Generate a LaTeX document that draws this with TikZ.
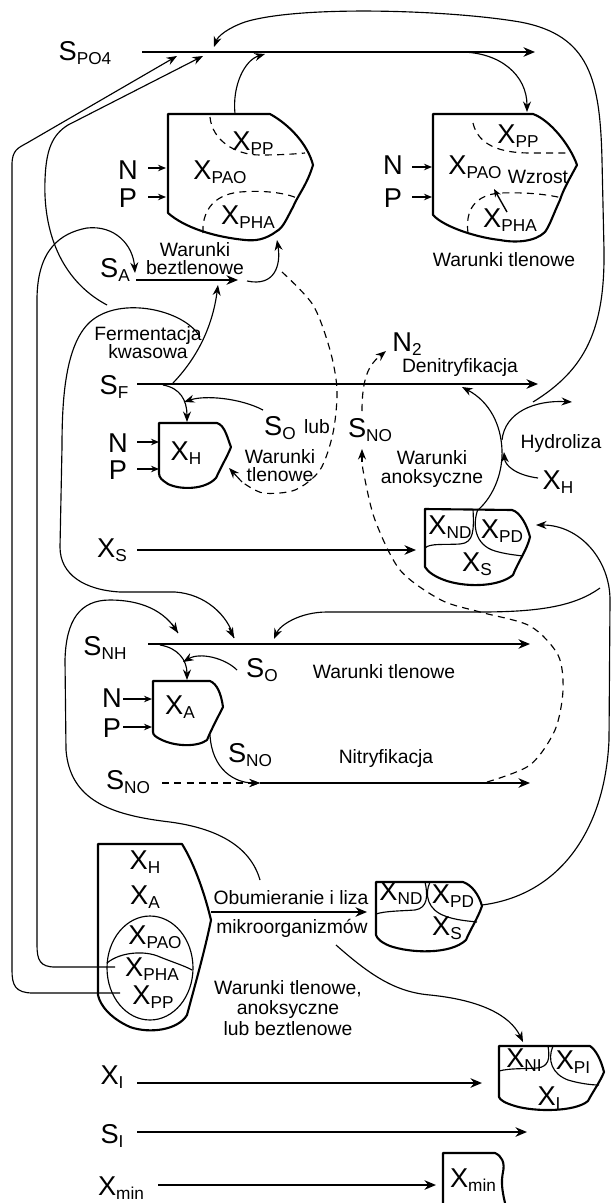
\documentclass[tikz,border=0pt]{standalone}
\usepackage{fontspec}
\setmainfont{Liberation Sans}
\usetikzlibrary{arrows.meta}
\newcommand{\bigf}{\fontsize{15.5}{15.5}\selectfont}
\newcommand{\subf}{\fontsize{9.8}{9.8}\selectfont}
\newcommand{\smf}{\fontsize{11}{10.3}\selectfont}
\newcommand{\vs}[2]{{\bigf #1}\raisebox{-2pt}{\subf #2}}
\tikzset{
  ar/.style={-{Stealth[length=2.3mm,width=1.9mm]},line width=1.2pt},
  sar/.style={-{Stealth[length=1.6mm,width=1.3mm]},line width=0.8pt},
  arc/.style={-{Stealth[length=2.1mm,width=1.6mm]},line width=0.65pt},
  cv/.style={line width=0.65pt},
  dsh/.style={line width=0.65pt,dash pattern=on 4pt off 3pt},
  bx/.style={line width=1.2pt,line join=round},
  lab/.style={inner sep=0pt,font=\bigf},
  txt/.style={inner sep=0pt,font=\smf,align=center}
}
\begin{document}
\begin{tikzpicture}[x=0.02cm,y=-0.02cm]
\useasboundingbox (0,0) rectangle (612,1203);

% --- fosforany
\node[lab] (spo4) at (85,53) {\vs{S}{PO4}};
\draw[ar] (142,52) -- (535,52);
\draw[arc] (533,402) .. controls (585,370) and (605,330) .. (604,250)
  -- (602,160) .. controls (600,80) and (590,35) .. (520,22)
  .. controls (450,10) and (300,5) .. (245,22) .. controls (228,28) and (218,36) .. (214,47);
\draw[arc] (235,114) .. controls (232,85) and (245,60) .. (265,54);
\draw[arc] (460,52) .. controls (500,52) and (527,75) .. (527,112);
\draw[arc] (120,993) -- (33,993) .. controls (15,993) and (12,985) .. (12,970)
  -- (12,165) .. controls (12,150) and (18,148) .. (27,143) -- (177,56);
\draw[arc] (107,305) .. controls (60,280) and (43,230) .. (45,180)
  .. controls (46,150) and (52,135) .. (68,125) -- (203,56);

% --- PAO beztlenowe
\draw[bx] (168,114) -- (270,114) .. controls (290,125) and (308,145) .. (313,165)
  .. controls (307,185) and (298,195) .. (293,207) .. controls (287,218) and (283,228) .. (277,231)
  .. controls (265,240) and (255,241) .. (245,240) .. controls (215,237) and (185,228) .. (168,213) -- cycle;
\draw[dsh] (210,117) .. controls (212,140) and (235,155) .. (260,155) .. controls (280,155) and (295,154) .. (305,153);
\draw[dsh] (203,233) .. controls (202,215) and (210,195) .. (240,192) .. controls (265,190) and (285,193) .. (297,198);
\node[lab] (xpp1) at (253,143) {\vs{X}{PP}};
\node[lab] (xpao1) at (220,172) {\vs{X}{PAO}};
\node[lab] (xpha1) at (248,217) {\vs{X}{PHA}};
\node[lab] (n1) at (128,170) {N};
\node[lab] (p1) at (128,198) {P};
\draw[sar] (148,168) -- (166,168);
\draw[sar] (148,197) -- (166,197);

% --- PAO tlenowe
\draw[bx] (433,114) -- (533,114) .. controls (550,120) and (570,145) .. (577,165)
  .. controls (570,178) and (563,190) .. (560,200) .. controls (553,215) and (550,225) .. (545,232)
  .. controls (535,242) and (515,243) .. (500,240) .. controls (480,238) and (445,228) .. (433,215) -- cycle;
\draw[dsh] (473,123) .. controls (478,145) and (500,153) .. (530,153) -- (570,153);
\draw[dsh] (468,233) .. controls (465,210) and (475,195) .. (500,193) .. controls (530,192) and (550,195) .. (562,198);
\node[lab] (xpp2) at (518,136) {\vs{X}{PP}};
\node[lab] (xpao2) at (475,167) {\vs{X}{PAO}};
\node[txt] (wzr) at (538,177) {Wzrost};
\node[lab] (xpha2) at (510,220) {\vs{X}{PHA}};
\draw[sar] (507,212) -- (494,189);
\node[lab] (n2l) at (393,165) {N};
\node[lab] (p2) at (393,198) {P};
\draw[sar] (412,167) -- (432,167);
\draw[sar] (412,197) -- (432,197);
\node[txt] (wt1) at (504,260) {Warunki tlenowe};

% --- S_A i fermentacja
\node[lab] (sa) at (115,270) {\vs{S}{A}};
\node[txt] (wb) at (195,259) {Warunki\\beztlenowe};
\draw[ar] (136,280) -- (238,280);
\draw[arc] (115,967) -- (55,967) .. controls (40,967) and (37,960) .. (37,945)
  -- (37,300) .. controls (37,250) and (60,233) .. (87,228) .. controls (115,225) and (133,245) .. (135,273);
\draw[arc] (247,281) .. controls (275,287) and (281,265) .. (277,240);
\draw[dsh] plot[smooth] coordinates {(282,272) (313,305) (330,350) (337,390) (333,433) (320,470) (295,490) (263,493) (242,482)};
\draw[arc] (242,482) -- (229,468);
\node[txt] (ferm) at (148,343) {Fermentacja\\kwasowa};
\draw[arc] (173,383) .. controls (195,360) and (212,330) .. (218,285);
\draw[cv] (200,337) .. controls (185,310) and (120,295) .. (90,322)
  .. controls (65,345) and (62,400) .. (62,447) -- (60,547)
  .. controls (60,575) and (85,590) .. (120,592) -- (175,592)
  .. controls (205,594) and (228,615) .. (234,638);
\draw[arc] (229,628) -- (234,638);

% --- S_F, X_H
\node[lab] (sf) at (114,387) {\vs{S}{F}};
\draw[ar] (137,384) -- (538,384);
\node[lab] (n2) at (407,344) {\vs{N}{2}};
\node[txt] (denit) at (460,368) {Denitryfikacja};
\draw[arc] (163,385) .. controls (180,388) and (187,400) .. (187,422);
\draw[arc] (263,410) .. controls (240,398) and (205,395) .. (184,402);
\draw[bx] (159,423) -- (217,423) .. controls (225,425) and (228,440) .. (231,447)
  .. controls (228,455) and (222,465) .. (216,478) .. controls (205,490) and (180,490) .. (168,484)
  .. controls (162,480) and (159,478) .. (159,473) -- cycle;
\node[lab] (xh1) at (186,453) {\vs{X}{H}};
\node[lab] (n3) at (118,443) {N};
\node[lab] (p3) at (118,470) {P};
\draw[sar] (137,442) -- (159,442);
\draw[sar] (137,469) -- (159,469);
\node[lab] (so1) at (280,428) {\vs{S}{O}};
\node[txt] (lub) at (317,427) {lub};
\node[txt] (wt2) at (280,466) {Warunki\\tlenowe};
\node[lab] (sno1) at (370,430) {\vs{S}{NO}};
\draw[dsh] (362,411) .. controls (362,380) and (368,365) .. (380,356);
\draw[arc] (380,356) -- (386,351);
\draw[dsh] plot[smooth] coordinates {(487,782) (530,765) (555,730) (563,690) (558,655) (530,626) (480,612) (441,600) (400,570) (375,520) (364,475) (362,462)};
\draw[arc] (362,462) -- (362,449);
\node[txt] (anok) at (432,469) {Warunki\\anoksyczne};

% --- hydroliza
\node[txt] (hydro) at (561,443) {Hydroliza};
\node[lab] (xh2) at (558,482) {\vs{X}{H}};
\draw[arc] (478,510) .. controls (495,495) and (503,470) .. (502,450) .. controls (501,425) and (490,402) .. (462,387);
\draw[arc] (502,440) .. controls (505,412) and (535,400) .. (572,402);
\draw[arc] (538,478) .. controls (515,475) and (505,465) .. (504,452);

% --- X_S
\node[lab] (xs1) at (112,550) {\vs{X}{S}};
\draw[ar] (137,550) -- (416,550);
\draw[bx] (425,509) -- (512,510) .. controls (520,512) and (527,525) .. (530,537)
  .. controls (527,550) and (518,562) .. (513,575) .. controls (500,586) and (470,588) .. (447,581)
  .. controls (435,577) and (428,572) .. (425,567) -- cycle;
\draw[cv] (473,509) .. controls (474,530) and (474,543) .. (460,544) .. controls (445,545) and (430,543) .. (425,548);
\draw[cv] (478,509) .. controls (472,525) and (475,545) .. (495,551) .. controls (505,554) and (515,555) .. (523,556);
\node[lab] (xnd1) at (450,527) {\vs{X}{ND}};
\node[lab] (xpd1) at (502,531) {\vs{X}{PD}};
\node[lab] (xs2) at (477,564) {\vs{X}{S}};
\draw[arc] (482,905) .. controls (560,895) and (605,830) .. (609,740)
  -- (610,600) .. controls (610,560) and (580,525) .. (536,525);
\draw[arc] (600,588) .. controls (575,606) and (540,612) .. (480,612) -- (327,612)
  .. controls (300,612) and (280,625) .. (274,639);

% --- S_NH, X_A
\node[lab] (snh) at (105,648) {\vs{S}{NH}};
\draw[ar] (148,644) -- (530,644);
\draw[arc] (160,645) .. controls (178,648) and (187,660) .. (187,680);
\node[lab] (so2) at (262,670) {\vs{S}{O}};
\draw[arc] (237,670) .. controls (225,658) and (200,652) .. (183,662);
\node[txt] (wt3) at (384,672) {Warunki tlenowe};
\draw[bx] (153,681) -- (210,681) .. controls (217,684) and (221,693) .. (223,707)
  .. controls (218,717) and (212,728) .. (207,740) .. controls (198,747) and (175,747) .. (160,739)
  .. controls (156,737) and (153,735) .. (153,732) -- cycle;
\node[lab] (xa1) at (180,707) {\vs{X}{A}};
\node[lab] (n4) at (112,698) {N};
\node[lab] (p4) at (112,728) {P};
\draw[sar] (123,699) -- (152,699);
\draw[sar] (123,727) -- (152,727);
\node[lab] (sno2) at (250,755) {\vs{S}{NO}};
\draw[arc] (210,735) .. controls (212,770) and (235,783) .. (260,783);
\node[lab] (sno3) at (128,782) {\vs{S}{NO}};
\draw[dsh] (162,783) -- (250,783);
\draw[arc] (250,783) -- (260,783);
\draw[ar] (260,783) -- (530,783);
\node[txt] (nitr) at (386,758) {Nitryfikacja};
\draw[cv] (260,880) .. controls (250,845) and (215,828) .. (170,822)
  .. controls (110,815) and (70,800) .. (66,750) -- (65,660)
  .. controls (66,620) and (80,600) .. (110,600) .. controls (140,600) and (165,610) .. (178,633);
\draw[arc] (172,624) -- (178,633);

% --- obumieranie
\draw[bx] (98,995) -- (98,844) -- (182,844) .. controls (195,865) and (205,895) .. (211,920)
  .. controls (205,950) and (195,985) .. (187,1015) .. controls (178,1030) and (150,1034) .. (130,1027)
  .. controls (110,1018) and (100,1005) .. (98,995);
\draw[cv] (150,968) ellipse [x radius=43, y radius=52];
\draw[cv] (107,963) .. controls (120,952) and (145,950) .. (160,957) .. controls (175,963) and (185,966) .. (192,970);
\node[lab] (xh3) at (145,862) {\vs{X}{H}};
\node[lab] (xa3) at (145,897) {\vs{X}{A}};
\node[lab] (xpao3) at (155,937) {\vs{X}{PAO}};
\node[lab] (xpha3) at (152,969) {\vs{X}{PHA}};
\node[lab] (xpp3) at (153,997) {\vs{X}{PP}};
\draw[ar] (211,912) -- (367,912);
\node[txt] (obum) at (291,898) {Obumieranie i liza};
\node[txt] (mikro) at (292,928) {mikroorganizmów};
\node[txt,font=\fontsize{11}{11.5}\selectfont] (wt4) at (288,1008) {Warunki tlenowe,\\anoksyczne\\lub beztlenowe};
\draw[bx] (376,882) -- (463,882) .. controls (472,885) and (479,895) .. (482,906)
  .. controls (478,918) and (470,930) .. (466,940) .. controls (450,955) and (410,953) .. (390,946)
  .. controls (380,942) and (377,938) .. (376,935) -- cycle;
\draw[cv] (425,882) .. controls (428,895) and (428,908) .. (415,910) .. controls (400,911) and (385,911) .. (376,914);
\draw[cv] (430,882) .. controls (424,895) and (428,910) .. (445,916) .. controls (455,920) and (468,921) .. (477,922);
\node[lab] (xnd2) at (401,893) {\vs{X}{ND}};
\node[lab] (xpd2) at (453,896) {\vs{X}{PD}};
\node[lab] (xs3) at (447,928) {\vs{X}{S}};
\draw[arc] (336,945) .. controls (370,975) and (395,992) .. (430,995) .. controls (480,1000) and (510,1015) .. (523,1042);

% --- inerty
\draw[bx] (499,1046) -- (590,1046) .. controls (596,1050) and (601,1060) .. (604,1072)
  .. controls (600,1082) and (592,1093) .. (588,1101) .. controls (575,1112) and (535,1112) .. (515,1106)
  .. controls (505,1103) and (500,1100) .. (499,1097) -- cycle;
\draw[cv] (548,1046) .. controls (550,1058) and (549,1067) .. (537,1068) .. controls (525,1069) and (510,1068) .. (499,1071);
\draw[cv] (553,1046) .. controls (547,1060) and (552,1074) .. (568,1080) .. controls (578,1083) and (590,1085) .. (599,1085);
\node[lab] (xni) at (524,1060) {\vs{X}{NI}};
\node[lab] (xpi) at (573,1062) {\vs{X}{PI}};
\node[lab] (xi2) at (549,1098) {\vs{X}{I}};
\node[lab] (xi) at (112,1077) {\vs{X}{I}};
\draw[ar] (137,1083) -- (482,1083);
\node[lab] (si) at (112,1136) {\vs{S}{I}};
\draw[ar] (137,1132) -- (527,1132);
\node[lab] (xmin) at (121,1188) {\vs{X}{min}};
\draw[ar] (158,1185) -- (436,1185);
\draw[bx] (443,1203) -- (443,1153) -- (495,1153) .. controls (502,1156) and (505,1163) .. (503,1172)
  .. controls (501,1182) and (502,1190) .. (505,1203);
\node[lab] (xmin2) at (473,1180) {\vs{X}{min}};
\end{tikzpicture}
\end{document}
